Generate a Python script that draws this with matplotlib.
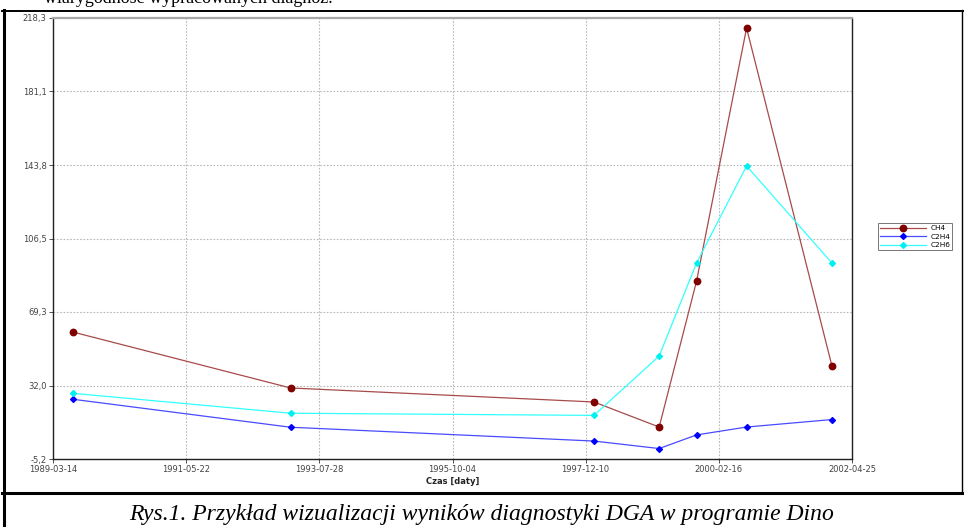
import matplotlib
matplotlib.use("Agg")
import matplotlib.pyplot as plt
import matplotlib.dates as mdates
from matplotlib.lines import Line2D
import pandas as pd

# ---- data ----
dates = ["1989-07-09", "1993-02-05", "1998-01-29", "1999-02-24",
         "1999-10-06", "2000-08-01", "2001-12-26"]
ch4 = [59.2, 30.8, 23.7, 11.0, 84.9, 213.2, 41.9]
c2h4 = [25.1, 10.9, 3.9, 0.1, 7.0, 11.0, 14.8]
c2h6 = [28.1, 18.0, 16.9, 47.0, 94.1, 143.3, 94.1]

xtick_dates = ["1989-03-14", "1991-05-22", "1993-07-28", "1995-10-04",
               "1997-12-10", "2000-02-16", "2002-04-25"]
ytick_vals = [-5.2, 32.05, 69.3, 106.55, 143.8, 181.05, 218.3]
ytick_labels = ["-5,2", "32,0", "69,3", "106,5", "143,8", "181,1", "218,3"]

series_names = ["CH4", "C2H4", "C2H6"]
top_text = "wiarygodność wypracowanych diagnoz."
caption = "Rys.1. Przykład wizualizacji wyników diagnostyki DGA w programie Dino"
xlabel = "Czas [daty]"

W, H = 964, 527
fig = plt.figure(figsize=(W / 100, H / 100), dpi=100)
fig.patch.set_facecolor("white")

x = mdates.date2num(pd.to_datetime(dates))
xt = mdates.date2num(pd.to_datetime(xtick_dates))

ax = fig.add_axes([53 / W, 1 - 459 / H, (852 - 53) / W, (459 - 18) / H])

ax.plot(x, ch4, color="#a84a4a", lw=0.9, marker="o", ms=4.6,
        mfc="#800000", mec="#800000", label=series_names[0], zorder=3)
ax.plot(x, c2h4, color="#4a4aff", lw=0.9, marker="D", ms=3.0,
        mfc="#0000ff", mec="#0000ff", label=series_names[1], zorder=3)
ax.plot(x, c2h6, color="#33ffff", lw=0.9, marker="D", ms=3.0,
        mfc="#00f0f0", mec="#00f0f0", label=series_names[2], zorder=3)

ax.set_xlim(xt[0], xt[-1])
ax.set_ylim(ytick_vals[0], ytick_vals[-1])
ax.set_xticks(xt)
ax.set_xticklabels(xtick_dates)
ax.set_yticks(ytick_vals)
ax.set_yticklabels(ytick_labels)
ax.tick_params(axis="both", labelsize=6, labelcolor="#444444", length=3,
               width=0.6, color="#333333", pad=1.5)
ax.grid(True, color="#b8b8b8", linestyle=(0, (1.5, 1.5)), linewidth=0.8)
ax.set_axisbelow(True)

for s in ["left", "bottom", "right"]:
    ax.spines[s].set_color("#202020")
    ax.spines[s].set_linewidth(1.0)
ax.spines["top"].set_color("#a8a8a8")
ax.spines["top"].set_linewidth(1.6)

ax.set_xlabel(xlabel, fontsize=6, fontweight="bold", labelpad=2, color="#222222")

leg = ax.legend(loc="upper left", bbox_to_anchor=(878 / W, 1 - 223 / H),
                bbox_transform=fig.transFigure, fontsize=5.3, frameon=True,
                fancybox=False, edgecolor="#555555", handlelength=6.2,
                handletextpad=0.6, borderpad=0.3, labelspacing=0.3,
                borderaxespad=0)
leg.get_frame().set_linewidth(0.7)

# document frame lines
def fline(x0, y0, x1, y1, lw, color="black"):
    fig.add_artist(Line2D([x0 / W, x1 / W], [1 - y0 / H, 1 - y1 / H],
                          transform=fig.transFigure, color=color, lw=lw))

fline(3.5, 10, 3.5, 527, 2.2)
fline(2, 10.5, 964, 10.5, 1.4)
fline(962, 10, 962, 493, 1.0)
fline(2, 493, 964, 493, 2.2)

fig.text(44 / W, 1 - 3 / H, top_text, fontsize=13,
         family="Liberation Serif", va="baseline", ha="left")
fig.text(482 / W, 1 - 520 / H, caption, fontsize=17, style="italic",
         family="Liberation Serif", va="baseline", ha="center")

fig.savefig("out.png", dpi=100)
